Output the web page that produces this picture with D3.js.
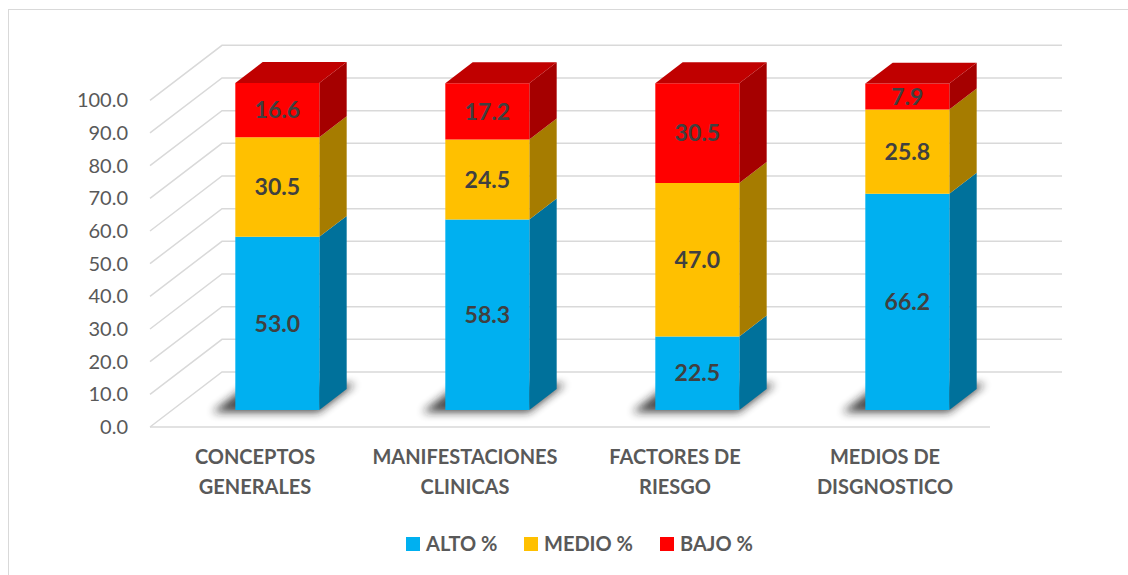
<!DOCTYPE html>
<html>
<head>
<meta charset="utf-8">
<script src="https://cdn.jsdelivr.net/npm/d3@7"></script>
<style>
  body { margin: 0; background: #fff; }
  svg { display: block; font-family: Lato, "Open Sans", sans-serif; }
</style>
</head>
<body>
<div id="chart-area"></div>
<script>
// datos del gráfico
const categories = [["CONCEPTOS", "GENERALES"], ["MANIFESTACIONES", "CLINICAS"], ["FACTORES DE", "RIESGO"], ["MEDIOS DE", "DISGNOSTICO"]]
const series = ["ALTO %", "MEDIO %", "BAJO %"]
const alto = [53.0, 58.3, 22.5, 66.2]
const medio = [30.5, 24.5, 47.0, 25.8]
const bajo = [16.6, 17.2, 30.5, 7.9]
const yTicks = [0, 10, 20, 30, 40, 50, 60, 70, 80, 90, 100]

// colores: frente, lado, arriba
const colors = {
  "ALTO %": { front: "#00B0F0", side: "#00719B", top: "#0089BB" },
  "MEDIO %": { front: "#FFC000", side: "#A67C00", top: "#C79600" },
  "BAJO %": { front: "#FF0000", side: "#A50000", top: "#C00000" }
}

const W = 1128, H = 575
const svg = d3.select("#chart-area").append("svg")
  .attr("width", W)
  .attr("height", H)

svg.append("rect")
  .attr("x", 8.5).attr("y", 9.5)
  .attr("width", W).attr("height", H)
  .attr("fill", "#fff")
  .attr("stroke", "#d9d9d9")

// profundidad 3D
const depth = { dx: 72, dy: -55 }
const z0 = 0.31, z1 = 0.69
const proj = (px, py, z) => [px + depth.dx * z, py + depth.dy * z]

const names = categories.map(c => c.join(" "))
const rows = names.map((n, i) => ({ name: n, "ALTO %": alto[i], "MEDIO %": medio[i], "BAJO %": bajo[i] }))

const x = d3.scaleBand()
  .domain(names)
  .range([150, 990])
  .paddingInner(0.6)
  .paddingOuter(0.3)

const y = d3.scaleLinear()
  .domain([0, 100])
  .range([427, 100.3])

const grid = svg.append("g")
  .attr("stroke", "#d9d9d9")
  .attr("stroke-width", 1.5)
  .attr("fill", "none")

// líneas de la pared del fondo y de la pared izquierda
yTicks.forEach(v => {
  const a = proj(150, y(v), 0)
  const b = proj(150, y(v), 1)
  const c = proj(990, y(v), 1)
  grid.append("path").attr("d", `M${a}L${b}L${c}`)
})
// borde delantero del piso
grid.append("line")
  .attr("x1", 150).attr("x2", 990)
  .attr("y1", y(0)).attr("y2", y(0))

// etiquetas del eje y
svg.append("g")
  .selectAll("text")
  .data(yTicks)
  .enter().append("text")
  .attr("x", 128)
  .attr("y", d => y(d))
  .attr("dy", "0.35em")
  .attr("text-anchor", "end")
  .attr("font-size", "20px")
  .attr("fill", "#595959")
  .text(d => d3.format(".1f")(d))

// sombras
const defs = svg.append("defs")
defs.append("filter").attr("id", "blur")
  .attr("x", "-50%").attr("y", "-50%").attr("width", "200%").attr("height", "200%")
  .append("feGaussianBlur").attr("stdDeviation", 4)

const poly = pts => "M" + pts.map(p => p.join(",")).join("L") + "Z"

svg.append("g")
  .selectAll("path")
  .data(names)
  .enter().append("path")
  .attr("d", d => {
    const x0 = x(d) - 20, x1 = x(d) + x.bandwidth() + 2
    return poly([proj(x0, y(0), 0.27), proj(x1, y(0), 0.27), proj(x1, y(0), 0.78), proj(x0, y(0), 0.78)])
  })
  .attr("fill", "#1a1a1a")
  .attr("opacity", 0.8)
  .attr("filter", "url(#blur)")

// barras apiladas
const stacked = d3.stack().keys(series)(rows)

const bars = svg.append("g")
stacked.forEach((layer, li) => {
  const c = colors[layer.key]
  layer.forEach((seg, i) => {
    const name = names[i]
    const xa = x(name), xb = x(name) + x.bandwidth()
    const yb = y(seg[0]), yt = y(seg[1])
    // lado derecho
    bars.append("path")
      .attr("d", poly([proj(xb, yt, z0), proj(xb, yt, z1), proj(xb, yb, z1), proj(xb, yb, z0)]))
      .attr("fill", c.side)
    // frente
    bars.append("path")
      .attr("d", poly([proj(xa, yt, z0), proj(xb, yt, z0), proj(xb, yb, z0), proj(xa, yb, z0)]))
      .attr("fill", c.front)
    // tapa (solo el último segmento)
    if (li === stacked.length - 1) {
      bars.append("path")
        .attr("d", poly([proj(xa, yt, z0), proj(xb, yt, z0), proj(xb, yt, z1), proj(xa, yt, z1)]))
        .attr("fill", c.top)
    }
    // valor
    const p = proj((xa + xb) / 2, (yt + yb) / 2, z0)
    bars.append("text")
      .attr("x", p[0])
      .attr("y", p[1])
      .attr("dy", "0.36em")
      .attr("text-anchor", "middle")
      .attr("font-size", "23px")
      .attr("font-weight", "bold")
      .attr("fill", "#404040")
      .text(d3.format(".1f")(seg.data[layer.key]))
  })
})

// etiquetas de categorías
const catLabels = svg.append("g")
categories.forEach((lines, i) => {
  const t = catLabels.append("text")
    .attr("x", x(names[i]) + x.bandwidth() / 2)
    .attr("y", 464)
    .attr("text-anchor", "middle")
    .attr("font-size", "20px")
    .attr("font-weight", "bold")
    .attr("fill", "#595959")
  lines.forEach((l, j) => {
    t.append("tspan")
      .attr("x", x(names[i]) + x.bandwidth() / 2)
      .attr("dy", j === 0 ? 0 : 30)
      .text(l)
  })
})

// leyenda
const legendX = [406, 524, 660]
const legend = svg.append("g")
series.forEach((s, i) => {
  legend.append("rect")
    .attr("x", legendX[i]).attr("y", 537)
    .attr("width", 14).attr("height", 14)
    .attr("fill", colors[s].front)
  legend.append("text")
    .attr("x", legendX[i] + 20)
    .attr("y", 544)
    .attr("dy", "0.36em")
    .attr("font-size", "20px")
    .attr("font-weight", "bold")
    .attr("fill", "#595959")
    .text(s)
})
</script>
</body>
</html>
